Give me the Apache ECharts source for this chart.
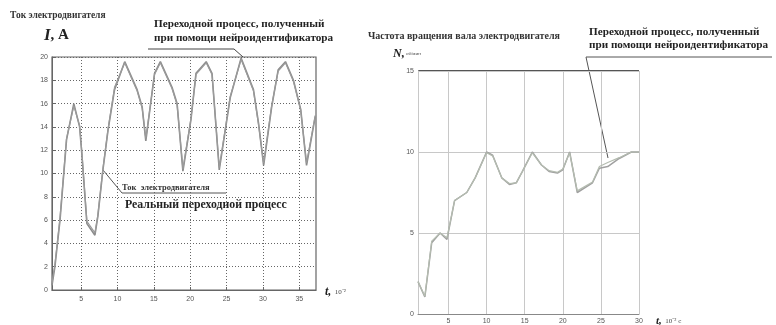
<!DOCTYPE html>
<html><head><meta charset="utf-8">
<script src="https://cdn.jsdelivr.net/npm/echarts@6/dist/echarts.min.js"></script>
<style>html,body{margin:0;padding:0;background:#fff}#c{width:776px;height:325px}</style>
</head><body><div id="c"></div>
<script>
// Left chart: motor current I, A vs t (10^-2 s)
const currentReal = [[1,0.4],[1.4,2],[2.1,6],[3,12.9],[4,16],[4.8,14],[5.1,11.7],[5.8,5.7],[6.9,4.7],[7.3,6.3],[8,10.3],[8.7,13.7],[9.6,17.2],[11,19.6],[12.7,17.2],[13.4,15.7],[13.9,12.8],[15.1,18.6],[15.9,19.6],[17.5,17.4],[18.2,16],[19,10.2],[20.1,14.6],[20.8,18.6],[22.2,19.6],[23,18.6],[24,10.3],[25.5,16.5],[27,19.9],[28.7,17.2],[29.4,14.3],[30.1,10.7],[31.2,15.7],[32.1,18.9],[33.1,19.6],[34.2,18],[35.2,15.5],[36,10.7],[37.2,14.9]];
const currentNeuro = [[1,0.6],[1.4,2.2],[2.1,6.2],[3,13],[4,15.8],[4.8,14.1],[5.1,11.9],[5.8,5.9],[6.9,4.9],[7.3,6.4],[8,10.4],[8.7,13.8],[9.6,17.4],[11,19.5],[12.7,17.1],[13.4,15.6],[13.9,13],[15.1,18.5],[15.9,19.5],[17.5,17.3],[18.2,15.9],[19,10.4],[20.1,14.7],[20.8,18.5],[22.2,19.5],[23,18.5],[24,10.5],[25.5,16.6],[27,19.8],[28.7,17.1],[29.4,14.2],[30.1,10.9],[31.2,15.8],[32.1,18.8],[33.1,19.5],[34.2,17.9],[35.2,15.4],[36,10.9],[37.2,15]];
const currentXTicks = [5,10,15,20,25,30,35];
// Right chart: shaft speed N vs t
const speedReal = [[1,2],[1.9,1.05],[2.8,4.4],[3.9,5],[4.8,4.6],[5.8,7],[7.4,7.5],[8.5,8.4],[10,10],[10.8,9.8],[12,8.4],[13,8],[13.9,8.1],[14.7,8.8],[16,10],[17.2,9.2],[18.2,8.8],[19.3,8.7],[20,8.9],[20.9,10],[21.9,7.5],[23.9,8.1],[24.8,9],[25.9,9.1],[27.4,9.6],[29,10],[30,10]];
const speedNeuro = [[1,2],[1.9,1.1],[2.8,4.5],[3.9,5],[4.8,4.7],[5.8,7],[7.4,7.5],[8.5,8.4],[10,9.95],[10.8,9.75],[12,8.4],[13,8.05],[13.9,8.1],[14.7,8.8],[16,9.95],[17.2,9.2],[18.2,8.85],[19.3,8.75],[20,8.95],[20.9,9.95],[21.9,7.6],[23.9,8.15],[24.8,9.1],[25.9,9.35],[27.4,9.65],[29,10],[30,10]];
const speedXTicks = [5,10,15,20,25,30];

const F = 'Liberation Serif';
const chart = echarts.init(document.getElementById('c'));
const lblStyle = {fontSize:7, color:'#555', fontFamily:'Liberation Sans'};
chart.setOption({
  animation:false,
  grid:[
    {left:52, top:57, width:264, height:233, show:true, borderColor:'#666', borderWidth:1.2},
    {left:418, top:71, width:221, height:243, show:false}
  ],
  xAxis:[
    {gridIndex:0, type:'value', min:1, max:37.3,
     axisLine:{lineStyle:{color:'#666'}},
     axisTick:{show:true, inside:true, length:3, customValues:currentXTicks, lineStyle:{color:'#666'}},
     axisLabel:{...lblStyle, margin:6, customValues:currentXTicks},
     splitLine:{show:true, lineStyle:{color:'#666', type:[1,2], width:1}}},
    {gridIndex:1, type:'value', min:1, max:30,
     axisLine:{lineStyle:{color:'#888'}},
     axisTick:{show:false, customValues:speedXTicks},
     axisLabel:{...lblStyle, margin:4, customValues:speedXTicks},
     splitLine:{show:true, lineStyle:{color:'#c8c8c8', width:1}}}
  ],
  yAxis:[
    {gridIndex:0, type:'value', min:0, max:20, interval:2,
     axisLine:{lineStyle:{color:'#666'}},
     axisTick:{show:true, inside:true, length:3, lineStyle:{color:'#666'}},
     axisLabel:{...lblStyle, margin:4},
     splitLine:{show:true, lineStyle:{color:'#666', type:[1,2], width:1}}},
    {gridIndex:1, type:'value', min:0, max:15, interval:5,
     axisLine:{show:true, lineStyle:{color:'#c8c8c8'}},
     axisTick:{show:false},
     axisLabel:{...lblStyle, margin:4},
     splitLine:{show:true, lineStyle:{color:'#c8c8c8', width:1}}}
  ],
  series:[
    {type:'line', xAxisIndex:0, yAxisIndex:0, data:currentReal, showSymbol:false, lineStyle:{color:'#8c8c8c', width:1.6}},
    {type:'line', xAxisIndex:0, yAxisIndex:0, data:currentNeuro, showSymbol:false, lineStyle:{color:'#9a9a9a', width:1.2}},
    {type:'line', xAxisIndex:1, yAxisIndex:1, data:speedReal, showSymbol:false, lineStyle:{color:'#a0a0a0', width:1.5}},
    {type:'line', xAxisIndex:1, yAxisIndex:1, data:speedNeuro, showSymbol:false, lineStyle:{color:'#b4bcb0', width:1.2}}
  ],
  graphic:[
    {type:'text', left:10, top:11, style:{text:'Ток электродвигателя', font:'bold 9.5px '+F, fill:'#333'}},
    {type:'text', left:44, top:27, style:{text:'{i|I}{n|, A}', rich:{i:{font:'italic bold 17px '+F, fill:'#222'}, n:{font:'bold 15px '+F, fill:'#222'}}}},
    {type:'text', left:154, top:17, style:{text:'Переходной процесс, полученный\nпри помощи нейроидентификатора', font:'bold 11.2px '+F, fill:'#222', lineHeight:14}},
    {type:'polyline', shape:{points:[[148,49],[234,49],[243,57]]}, style:{stroke:'#444', lineWidth:1, fill:null}},
    {type:'polyline', shape:{points:[[103,170],[122,193],[226,193]]}, style:{stroke:'#555', lineWidth:1, fill:null}},
    {type:'text', left:122, top:183, style:{text:'Ток  электродвигателя', font:'bold 8.5px '+F, fill:'#333'}},
    {type:'text', left:125, top:199, style:{text:'Реальный переходной процесс', font:'bold 11.8px '+F, fill:'#222'}},
    {type:'text', left:325, top:286, style:{text:'{i|t,}{n|  10⁻²}', rich:{i:{font:'italic bold 12px '+F, fill:'#222'}, n:{font:'7px '+F, fill:'#444'}}}},
    // right chart texts
    {type:'text', left:368, top:31, style:{text:'Частота вращения вала электродвигателя', font:'bold 10px '+F, fill:'#333'}},
    {type:'text', left:393, top:48, style:{text:'{i|N,}{n| об/мин}', rich:{i:{font:'italic bold 12px '+F, fill:'#222'}, n:{font:'5px '+F, fill:'#444'}}}},
    {type:'line', shape:{x1:418, y1:71, x2:639, y2:71}, style:{stroke:'#555', lineWidth:2}},
    {type:'text', left:589, top:26, style:{text:'Переходной процесс, полученный\nпри помощи нейроидентификатора', font:'bold 11.2px '+F, fill:'#222', lineHeight:13}},
    {type:'polyline', shape:{points:[[772,57],[586,57],[608,158]]}, style:{stroke:'#555', lineWidth:1, fill:null}},
    {type:'text', left:656, top:316, style:{text:'{i|t,}{n|  10⁻² с}', rich:{i:{font:'italic bold 11px '+F, fill:'#222'}, n:{font:'7px '+F, fill:'#444'}}}}
  ]
});
</script></body></html>
